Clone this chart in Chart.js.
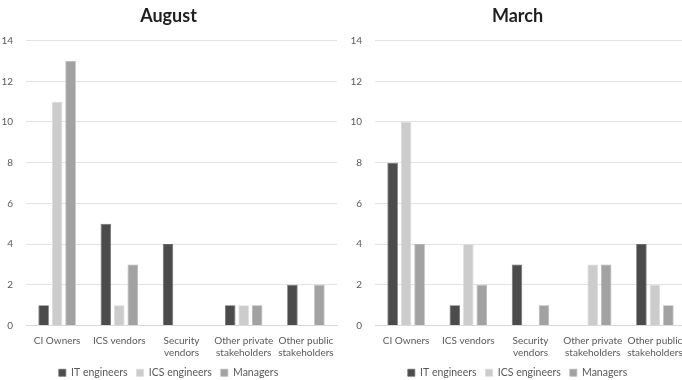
<!DOCTYPE html>
<html>
<head>
<meta charset="utf-8">
<script src="https://cdn.jsdelivr.net/npm/chart.js@4/dist/chart.umd.min.js"></script>
<style>
  html, body { margin: 0; padding: 0; background: #ffffff; }
  #wrap { position: relative; width: 682px; height: 380px; overflow: hidden; }
  .panel { position: absolute; top: 0; width: 344px; height: 380px; }
  #pAug { left: 0; }
  #pMar { left: 349px; }
</style>
</head>
<body>
<div id="wrap">
  <div class="panel" id="pAug"><canvas id="cAug" width="344" height="380"></canvas></div>
  <div class="panel" id="pMar"><canvas id="cMar" width="344" height="380"></canvas></div>
</div>
<script>
// Stakeholder groups on the x axis
const categories = [
  'CI Owners',
  'ICS vendors',
  ['Security', 'vendors'],
  ['Other private', 'stakeholders'],
  ['Other public', 'stakeholders']
];

// Respondent roles (one bar series each)
const seriesNames = ['IT engineers', 'ICS engineers', 'Managers'];
const seriesColors = ['#4b4b4b', '#cccccc', '#a2a2a2'];
const seriesEdges = ['#6a6a6a', '#dcdcdc', '#b4b4b4'];

// August counts
const augustIT = [1, 5, 4, 1, 2];
const augustICS = [11, 1, 0, 1, 0];
const augustManagers = [13, 3, 0, 1, 2];

// March counts
const marchIT = [8, 1, 3, 0, 4];
const marchICS = [10, 4, 0, 3, 2];
const marchManagers = [4, 2, 1, 3, 1];

// Value axis
const yTicks = [0, 2, 4, 6, 8, 10, 12, 14];

const FONT = 'Lato, "Open Sans", sans-serif';
const TEXT = '#595959';

function makeChart(canvasId, title, values) {
  const datasets = values.map((vals, i) => ({
    label: seriesNames[i],
    data: vals,
    backgroundColor: seriesColors[i],
    borderColor: seriesEdges[i],
    borderWidth: 0.8,
    categoryPercentage: 0.65,
    barPercentage: 0.78
  }));

  return new Chart(document.getElementById(canvasId), {
    type: 'bar',
    data: { labels: categories, datasets },
    options: {
      responsive: false,
      animation: false,
      devicePixelRatio: 1,
      layout: { padding: { left: 0, right: 7, top: 0, bottom: -8 } },
      plugins: {
        title: {
          display: true,
          text: title,
          color: '#1f1f1f',
          font: { family: FONT, size: 18, weight: 'bold', lineHeight: 1.2 },
          padding: { top: 5, bottom: 14 }
        },
        legend: {
          position: 'bottom',
          labels: {
            boxWidth: 7,
            boxHeight: 7,
            padding: 9,
            color: TEXT,
            font: { family: FONT, size: 10.5 }
          }
        },
        tooltip: { enabled: false }
      },
      scales: {
        x: {
          grid: { display: false, drawTicks: false },
          border: { display: true, color: '#d9d9d9', width: 1 },
          afterFit: (scale) => { scale.height -= 9; },
          ticks: {
            color: TEXT,
            padding: 9,
            maxRotation: 0,
            autoSkip: false,
            font: { family: FONT, size: 10, lineHeight: 1.2 }
          }
        },
        y: {
          min: yTicks[0],
          max: yTicks[yTicks.length - 1],
          afterBuildTicks: (scale) => { scale.ticks = yTicks.map(v => ({ value: v })); },
          afterFit: (scale) => { scale.width = 26; },
          grid: { color: '#e3e3e3', drawTicks: false, lineWidth: 1 },
          border: { display: false },
          ticks: {
            color: TEXT,
            padding: 13,
            font: { family: FONT, size: 10 }
          }
        }
      }
    }
  });
}

makeChart('cAug', 'August', [augustIT, augustICS, augustManagers]);
makeChart('cMar', 'March', [marchIT, marchICS, marchManagers]);
</script>
</body>
</html>
